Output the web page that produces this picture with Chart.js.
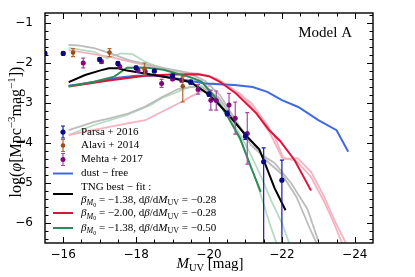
<!DOCTYPE html>
<html><head><meta charset="utf-8">
<script src="https://cdn.jsdelivr.net/npm/chart.js@4/dist/chart.umd.min.js"></script>
<style>html,body{margin:0;padding:0;background:#fff}canvas{display:block}</style>
</head><body>
<canvas id="c" width="415" height="277"></canvas>
<script>
// ---- axis ticks ----
const xTicks = [-16, -18, -20, -22, -24];
const yTicks = [-1, -2, -3, -4, -5, -6];

// ---- observations ----
const parsaM   = [-15.5, -16.0, -17.0, -17.5, -18.0, -18.5, -19.0, -19.5, -20.0, -20.5, -21.0, -21.5, -22.0];
const parsaPhi = [-1.76, -1.76, -1.91, -2.01, -2.12, -2.20, -2.32, -2.48, -2.78, -3.26, -3.83, -4.47, -4.93];
const parsaErrHi = [0.04, 0.04, 0.04, 0.04, 0.04, 0.04, 0.04, 0.05, 0.05, 0.06, 0.08, 0.35, 0.50];
const parsaErrLo = [0.04, 0.04, 0.04, 0.04, 0.04, 0.04, 0.04, 0.05, 0.05, 0.06, 0.08, 3.00, 3.00];

const alaviM   = [-16.27, -17.27, -18.23, -19.28];
const alaviPhi = [-1.74, -1.74, -2.15, -2.58];
const alaviErrHi = [0.10, 0.10, 0.15, 0.24];
const alaviErrLo = [0.10, 0.10, 0.15, 0.39];

const mehtaM   = [-16.55, -17.05, -17.55, -18.05, -18.25, -18.7, -19.0, -19.25, -19.7, -20.05, -20.2, -20.55, -20.72, -21.05];
const mehtaPhi = [-2.00, -1.97, -2.09, -2.18, -2.22, -2.51, -2.40, -2.43, -2.66, -2.93, -2.94, -3.05, -3.38, -3.76];
const mehtaErrHi = [0.12, 0.04, 0.04, 0.04, 0.05, 0.10, 0.04, 0.05, 0.12, 0.25, 0.24, 0.29, 0.40, 0.52];
const mehtaErrLo = [0.12, 0.04, 0.04, 0.04, 0.05, 0.10, 0.04, 0.05, 0.12, 0.25, 0.24, 0.29, 0.40, 0.77];

// ---- model curves ----
const dustFreeM   = [-16.15, -16.6, -17.0, -17.5, -18.0, -18.5, -19.0, -19.5, -19.9, -20.3, -20.7, -21.2, -21.6, -22.0, -22.45, -23.0, -23.5, -23.82];
const dustFreePhi = [-2.57, -2.51, -2.45, -2.37, -2.32, -2.31, -2.37, -2.45, -2.51, -2.53, -2.55, -2.60, -2.72, -2.93, -3.10, -3.43, -3.68, -4.22];

const tngM   = [-16.15, -16.6, -17.0, -17.25, -17.5, -17.75, -18.25, -19.0, -19.5, -20.0, -20.5, -21.0, -21.38, -21.52, -21.8, -22.1];
const tngPhi = [-2.48, -2.30, -2.19, -2.13, -2.13, -2.19, -2.26, -2.38, -2.48, -2.79, -3.25, -3.80, -4.16, -4.47, -5.13, -5.68];

const beta200M   = [-16.15, -17.3, -18.25, -19.0, -19.7, -20.0, -20.3, -20.75, -21.3, -21.65, -21.95, -22.35, -22.8];
const beta200Phi = [-2.59, -2.43, -2.32, -2.29, -2.28, -2.33, -2.47, -2.77, -3.26, -3.68, -3.95, -4.43, -5.19];

const slope050M   = [-16.15, -16.85, -17.4, -17.75, -18.25, -18.75, -19.5, -19.8, -20.15, -20.5, -20.85, -21.15, -21.42];
const slope050Phi = [-2.58, -2.47, -2.34, -2.12, -2.11, -2.17, -2.36, -2.47, -2.84, -3.32, -3.88, -4.60, -5.22];

// faint curves
const greyHiM   = [-16.15, -16.4, -16.85, -17.3, -17.8, -18.25, -18.75, -19.25, -19.5, -19.9, -20.3, -20.85, -21.15, -21.45, -21.8, -22.25, -22.7, -23.0];
const greyHiPhi = [-1.55, -1.56, -1.63, -1.76, -1.93, -2.02, -2.12, -2.21, -2.27, -2.45, -2.80, -3.60, -4.05, -4.30, -4.50, -5.00, -5.65, -6.45];
const greyLoM   = [-16.15, -16.85, -17.3, -17.8, -18.25, -18.7, -19.15, -19.5, -19.8, -20.25, -20.8, -21.2, -21.45, -21.65, -22.0, -22.4, -22.75, -22.95];
const greyLoPhi = [-3.68, -3.47, -3.38, -3.26, -3.09, -2.86, -2.65, -2.60, -2.60, -2.85, -3.55, -4.00, -4.32, -4.50, -4.78, -5.35, -6.10, -6.50];

const pinkHiM   = [-16.15, -17.25, -18.0, -18.75, -19.25, -19.75, -20.25, -20.75, -21.16, -21.6, -21.8, -22.05, -22.43, -22.8, -23.16, -23.44, -23.67, -23.75];
const pinkHiPhi = [-1.68, -1.84, -2.00, -2.15, -2.22, -2.27, -2.40, -2.72, -3.00, -3.55, -3.84, -4.40, -4.38, -4.72, -5.34, -5.93, -6.34, -6.50];
const pinkLoM   = [-16.15, -17.3, -18.25, -18.9, -19.25, -19.5, -19.85, -20.1, -20.5, -20.9, -21.3, -21.7, -22.0, -22.4, -22.8, -23.15, -23.45, -23.65];
const pinkLoPhi = [-3.80, -3.59, -3.43, -3.13, -2.97, -2.84, -2.68, -2.51, -2.55, -2.80, -3.25, -3.80, -4.36, -4.45, -4.85, -5.45, -6.05, -6.50];

const lgreenHiM   = [-16.15, -16.85, -17.2, -17.45, -17.6, -17.9, -18.25, -18.7, -19.5, -19.8, -20.2, -20.6, -21.06, -21.43, -21.7, -22.0, -22.2];
const lgreenHiPhi = [-1.62, -1.72, -1.88, -1.80, -1.76, -1.78, -1.97, -2.13, -2.28, -2.45, -2.85, -3.40, -4.13, -4.84, -5.43, -6.00, -6.50];
const lgreenLoM   = [-16.15, -16.85, -17.75, -18.4, -18.7, -19.25, -19.5, -19.8, -20.2, -20.6, -20.9, -21.3, -21.66, -21.85];
const lgreenLoPhi = [-3.80, -3.55, -3.30, -3.05, -2.88, -2.68, -2.59, -2.58, -2.88, -3.45, -4.00, -4.95, -6.00, -6.50];

// ---- helpers ----
const SERIF = "'Liberation Serif', 'DejaVu Serif', serif";
const SANS = "'DejaVu Sans', sans-serif";
const pts = (xs, ys) => xs.map((v, i) => ({x: v, y: ys[i]}));
const fmt = v => (v < 0 ? '\u2212' : '') + Math.abs(v);

function lineDs(xs, ys, color, width, order) {
  return {data: pts(xs, ys), showLine: true, borderColor: color, borderWidth: width,
          pointRadius: 0, fill: false, tension: 0, order: order, clip: 0};
}
function obsDs(xs, ys, lo, hi, color, barColor, r) {
  return {data: pts(xs, ys), showLine: false, pointRadius: r, pointBackgroundColor: color,
          pointBorderColor: color, pointBorderWidth: 0, order: 0, clip: 0,
          errLo: lo, errHi: hi, barColor: barColor};
}

const C_BLUE = '#4169e1', C_RED = '#dc143c', C_GREEN = '#2e8b57';
const C_GREY = '#bcbcbc', C_PINK = '#f5b3c0', C_LGREEN = '#b5dcc3';
const C_PARSA = '#0b0b80', C_ALAVI = '#9a4e1c', C_MEHTA = '#7d0a7d', C_MEHTA_BAR = '#a84aa8';

const datasets = [
  obsDs(parsaM, parsaPhi, parsaErrLo, parsaErrHi, C_PARSA, '#1a1aa8', 2.6),
  obsDs(alaviM, alaviPhi, alaviErrLo, alaviErrHi, C_ALAVI, '#b0682e', 2.3),
  obsDs(mehtaM, mehtaPhi, mehtaErrLo, mehtaErrHi, C_MEHTA, C_MEHTA_BAR, 2.5),
  lineDs(tngM, tngPhi, '#000000', 2, 1),
  lineDs(slope050M, slope050Phi, C_GREEN, 2, 2),
  lineDs(beta200M, beta200Phi, C_RED, 2, 3),
  lineDs(dustFreeM, dustFreePhi, C_BLUE, 2, 4),
  lineDs(greyHiM, greyHiPhi, C_GREY, 1.8, 5),
  lineDs(greyLoM, greyLoPhi, C_GREY, 1.8, 5),
  lineDs(pinkHiM, pinkHiPhi, C_PINK, 1.8, 6),
  lineDs(pinkLoM, pinkLoPhi, C_PINK, 1.8, 6),
  lineDs(lgreenHiM, lgreenHiPhi, C_LGREEN, 1.8, 7),
  lineDs(lgreenLoM, lgreenLoPhi, C_LGREEN, 1.8, 7),
];

// rich text: parts = [text, font, dy]
function drawRich(ctx, x, y, parts) {
  let cx = x;
  for (const [t, f, dy] of parts) {
    ctx.font = f;
    ctx.fillText(t, cx, y + (dy || 0));
    cx += ctx.measureText(t).width;
  }
  return cx;
}
function richWidth(ctx, parts) {
  let w = 0;
  for (const [t, f] of parts) { ctx.font = f; w += ctx.measureText(t).width; }
  return w;
}

const errPlugin = {
  id: 'errbars',
  beforeDatasetDraw(chart, args) {
    const ds = chart.data.datasets[args.index];
    if (!ds.errLo) return;
    const {ctx, chartArea: a, scales: {x, y}} = chart;
    ctx.save();
    ctx.beginPath(); ctx.rect(a.left, a.top, a.right - a.left, a.bottom - a.top); ctx.clip();
    ctx.strokeStyle = ds.barColor; ctx.lineWidth = 1.2;
    ds.data.forEach((p, i) => {
      const px = x.getPixelForValue(p.x);
      const y1 = y.getPixelForValue(p.y + ds.errHi[i]);
      const y2 = y.getPixelForValue(p.y - ds.errLo[i]);
      ctx.beginPath();
      ctx.moveTo(px, y1); ctx.lineTo(px, y2);
      ctx.moveTo(px - 2, y1); ctx.lineTo(px + 2, y1);
      ctx.moveTo(px - 2, y2); ctx.lineTo(px + 2, y2);
      ctx.stroke();
    });
    ctx.restore();
  }
};

function drawErrHandle(ctx, x, y, color, barColor, r) {
  ctx.strokeStyle = barColor; ctx.lineWidth = 1.2;
  ctx.beginPath();
  ctx.moveTo(x, y - 6); ctx.lineTo(x, y + 6);
  ctx.moveTo(x - 2, y - 6); ctx.lineTo(x + 2, y - 6);
  ctx.moveTo(x - 2, y + 6); ctx.lineTo(x + 2, y + 6);
  ctx.stroke();
  ctx.fillStyle = color;
  ctx.beginPath(); ctx.arc(x, y, r, 0, Math.PI * 2); ctx.fill();
}
function drawLineHandle(ctx, y, color) {
  ctx.strokeStyle = color; ctx.lineWidth = 2;
  ctx.beginPath(); ctx.moveTo(53, y); ctx.lineTo(73, y); ctx.stroke();
}

const framePlugin = {
  id: 'frame',
  afterDraw(chart) {
    const {ctx, chartArea: a, scales: {x, y}} = chart;
    ctx.save();
    // frame
    ctx.strokeStyle = '#000'; ctx.lineWidth = 1.4;
    ctx.strokeRect(a.left, a.top, a.right - a.left, a.bottom - a.top);
    // ticks (inward, all sides)
    ctx.lineWidth = 1;
    ctx.beginPath();
    for (let v = -15.5; v >= -24.5; v -= 0.5) {
      const px = Math.round(x.getPixelForValue(v)) + 0.5;
      if (px <= a.left + 1 || px >= a.right - 1) continue;
      const major = Math.abs(v / 2 - Math.round(v / 2)) < 1e-6;
      const L = major ? 6 : 3.5;
      ctx.moveTo(px, a.bottom); ctx.lineTo(px, a.bottom - L);
      ctx.moveTo(px, a.top); ctx.lineTo(px, a.top + L);
    }
    for (let k = -33; k <= -3; k++) {
      const v = k / 5;
      const py = Math.round(y.getPixelForValue(v)) + 0.5;
      if (py <= a.top + 1 || py >= a.bottom - 1) continue;
      const major = k % 5 === 0;
      const L = major ? 6 : 3.5;
      ctx.moveTo(a.left, py); ctx.lineTo(a.left + L, py);
      ctx.moveTo(a.right, py); ctx.lineTo(a.right - L, py);
    }
    ctx.stroke();

    // "Model A"
    ctx.fillStyle = '#000';
    ctx.textBaseline = 'alphabetic';
    ctx.font = '15px ' + SERIF;
    ctx.textAlign = 'right';
    ctx.fillText('Model A', 352, 37);
    ctx.textAlign = 'left';

    // legend
    const F = '11px ' + SERIF, FI = 'italic 11px ' + SERIF;
    const FS = '8px ' + SERIF, FSI = 'italic 8px ' + SERIF, FSS = '6px ' + SERIF;
    const tx = 81;
    drawErrHandle(ctx, 63, 132, C_PARSA, '#1a1aa8', 2.6);
    drawErrHandle(ctx, 63, 145.5, C_ALAVI, '#b0682e', 2.3);
    drawErrHandle(ctx, 63, 159.5, C_MEHTA, C_MEHTA_BAR, 2.5);
    drawLineHandle(ctx, 173.5, C_BLUE);
    drawLineHandle(ctx, 194, '#000');
    drawLineHandle(ctx, 213, C_RED);
    drawLineHandle(ctx, 228, C_GREEN);
    ctx.fillStyle = '#000';
    ctx.textBaseline = 'middle';
    drawRich(ctx, tx, 132, [['Parsa + 2016', F]]);
    drawRich(ctx, tx, 145.5, [['Alavi + 2014', F]]);
    drawRich(ctx, tx, 159.5, [['Mehta + 2017', F]]);
    drawRich(ctx, tx, 173.5, [['dust \u2212 free', F]]);
    drawRich(ctx, tx, 187, [['TNG best \u2212 fit :', F]]);
    const betaLine = (b, s) => [['\u03b2', FI], ['M', FSI, 3], ['0', FSS, 5], [' = \u2212' + b + ', d', F],
      ['\u03b2', FI], ['/d', F], ['M', FI], ['UV', FS, 3], [' = \u2212' + s, F]];
    drawRich(ctx, tx, 200, betaLine('1.38', '0.28'));
    drawRich(ctx, tx, 213.5, betaLine('2.00', '0.28'));
    drawRich(ctx, tx, 228, betaLine('1.38', '0.50'));

    // axis titles
    ctx.textBaseline = 'alphabetic';
    const xt = [['M', 'italic 15px ' + SERIF], ['UV', '10.5px ' + SERIF, 3], [' [mag]', '15px ' + SERIF]];
    const xw = richWidth(ctx, xt);
    drawRich(ctx, 210 - xw / 2, 268, xt);

    const yt = [['log(', '16px ' + SERIF], ['\u03c6', 'italic 16px ' + SERIF], ['[Mpc', '16px ' + SERIF],
      ['\u22123', '11px ' + SERIF, -6], ['mag', '16px ' + SERIF], ['\u22121', '11px ' + SERIF, -6], ['])', '16px ' + SERIF]];
    const yw = richWidth(ctx, yt);
    ctx.translate(21, 132);
    ctx.rotate(-Math.PI / 2);
    drawRich(ctx, -yw / 2, 0, yt);
    ctx.restore();
  }
};

new Chart(document.getElementById('c'), {
  type: 'scatter',
  data: {datasets},
  options: {
    responsive: false, animation: false, devicePixelRatio: 1,
    layout: {padding: {top: 13, right: 42, left: 0, bottom: 0}},
    plugins: {legend: {display: false}, tooltip: {enabled: false}},
    scales: {
      x: {type: 'linear', reverse: true, min: -24.5, max: -15.5,
          afterBuildTicks: s => { s.ticks = xTicks.map(v => ({value: v})); },
          afterFit: s => { s.height = 34; },
          grid: {display: false}, border: {display: false},
          ticks: {font: {family: SANS, size: 12}, color: '#000', padding: -3, maxRotation: 0,
                  autoSkip: false, callback: v => fmt(v)}},
      y: {type: 'linear', min: -6.5, max: -0.75,
          afterBuildTicks: s => { s.ticks = yTicks.map(v => ({value: v})); },
          afterFit: s => { s.width = 45; },
          grid: {display: false}, border: {display: false},
          ticks: {font: {family: SANS, size: 12}, color: '#000', padding: 4,
                  autoSkip: false, callback: v => fmt(v)}}
    }
  },
  plugins: [errPlugin, framePlugin]
});
</script>
</body></html>
